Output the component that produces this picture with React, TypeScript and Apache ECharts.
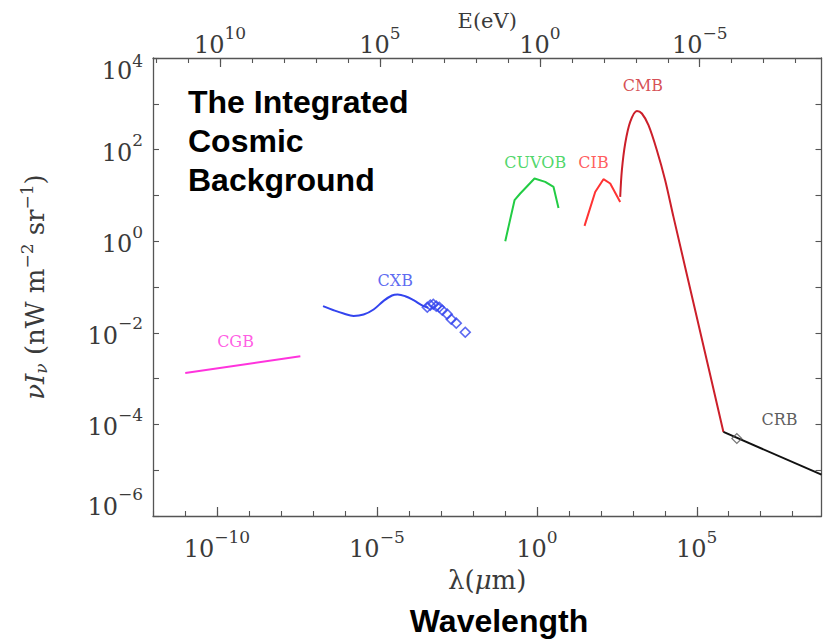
import React, { useEffect, useRef } from 'react';
import * as echarts from 'echarts';

// ---- data (λ in μm, νIν in nW m^-2 sr^-1) ----
const CGB_LAMBDA = [1.02e-11, 4.04e-8];
const CGB_FLUX = [1.33e-3, 3.08e-3];

const CXB_LAMBDA = [2.07e-7, 4.44e-7, 9.1e-7, 1.87e-6, 3.84e-6, 7.89e-6, 1.62e-5, 2.96e-5, 4.44e-5, 7.71e-5, 1.4e-4, 2.88e-4, 4.0e-4];
const CXB_FLUX = [0.0381, 0.0311, 0.0264, 0.0234, 0.0251, 0.0323, 0.0498, 0.0652, 0.0685, 0.063, 0.0515, 0.0381, 0.0353];

const CXB_PTS_LAMBDA = [3.76e-4, 4.67e-4, 5.79e-4, 7.18e-4, 8.91e-4, 1.11e-3, 1.58e-3, 2.11e-3, 3.03e-3, 5.79e-3];
const CXB_PTS_FLUX = [0.0362, 0.0401, 0.0421, 0.0381, 0.0362, 0.0311, 0.0255, 0.0198, 0.0162, 0.0103];

const CUVOB_LAMBDA = [0.103, 0.201, 0.303, 0.847, 1.83, 3.33, 4.76];
const CUVOB_FLUX = [1.0, 7.85, 11.0, 23.4, 19.7, 15.3, 5.33];

const CIB_LAMBDA = [31.0, 66.8, 121, 197, 404];
const CIB_FLUX = [2.16, 11.9, 22.6, 18.2, 7.21];

const CMB_LAMBDA = [404, 456, 579, 830, 1343, 1923, 3097, 5662, 10292, 18707, 1.0e5, 6.823e5];
const CMB_FLUX = [9.27, 35.5, 136, 403, 700, 614, 341, 97.0, 21.5, 3.4, 0.0222, 6.85e-5];

const CRB_LAMBDA = [6.823e5, 7.94e8];
const CRB_FLUX = [6.85e-5, 7.98e-6];
const CRB_PT_LAMBDA = [1.79e6];
const CRB_PT_FLUX = [4.92e-5];

const LABEL_NAMES = ['CGB', 'CXB', 'CUVOB', 'CIB', 'CMB', 'CRB'];
const LABEL_LAMBDA = [3.8e-10, 3.76e-5, 0.891, 59.2, 2070, 3.84e7];
const LABEL_FLUX = [6.56e-3, 0.136, 51.3, 51.3, 2547, 1.28e-4];
const LABEL_COLORS = ['#ff33dd', '#3344ee', '#22cc44', '#ff3333', '#cc1f2a', '#333333'];

// axis limits & ticks (exponents of 10)
const LAMBDA_MIN = 1e-12;
const LAMBDA_MAX = Math.pow(10, 8.9);
const HC_EV_UM = 1.24; // E(eV) = 1.24 / λ(μm)
const LAMBDA_LABEL_EXP = [-10, -5, 0, 5];
const LAMBDA_MINOR_EXP = [-12, -11, -10, -9, -8, -7, -6, -5, -4, -3, -2, -1, 0, 1, 2, 3, 4, 5, 6, 7, 8];
const E_LABEL_EXP = [10, 5, 0, -5];
const E_MINOR_EXP = [-8, -7, -6, -5, -4, -3, -2, -1, 0, 1, 2, 3, 4, 5, 6, 7, 8, 9, 10, 11, 12];
const Y_LABEL_EXP = [-6, -4, -2, 0, 2, 4];
const Y_MINOR_EXP = [-6, -5, -4, -3, -2, -1, 0, 1, 2, 3, 4];
const Y_MIN_EXP = -6;
const Y_MAX_EXP = 4;

const pairs = (lam: number[], flux: number[]) => lam.map((l, i) => [Math.log10(l), Math.log10(flux[i])]);

const SERIF = 'DejaVu Serif';
const TXT = '#3a3a3a';
const FRAME = '#555555';

const supText = (v: number) => (v < 0 ? '−' + Math.abs(v) : String(v));

const richTick: any = {
  mM: { fontFamily: SERIF, fontSize: 24, color: TXT, padding: [6, 0, 0, 0] },
  sM: { fontFamily: SERIF, fontSize: 17, color: TXT, padding: [0, 0, 19, 0] },
  mT: { fontFamily: SERIF, fontSize: 24, color: TXT, padding: [25, 0, 0, 0] },
  sT: { fontFamily: SERIF, fontSize: 17, color: TXT, padding: [5, 0, 0, 0] },
  mB: { fontFamily: SERIF, fontSize: 24, color: TXT, padding: [0, 0, 19, 0] },
  sB: { fontFamily: SERIF, fontSize: 17, color: TXT, padding: [0, 0, 44, 0] },
};

const fmtPlain = (v: number) => `{mM|10}{sM|${supText(Math.round(v))}}`;
const fmtY = (v: number) => {
  const r = Math.round(v);
  const k = r === Y_MAX_EXP ? 'T' : r === Y_MIN_EXP ? 'B' : 'M';
  return `{m${k}|10}{s${k}|${supText(r)}}`;
};

export default function App() {
  const ref = useRef<HTMLDivElement>(null);
  useEffect(() => {
    if (!ref.current) return;
    const chart = echarts.init(ref.current, undefined, { renderer: 'svg' });
    const logHc = Math.log10(HC_EV_UM);
    const xMin = Math.log10(LAMBDA_MIN);
    const xMax = Math.log10(LAMBDA_MAX);
    const lineSeries = (data: number[][], color: string, smooth: number | boolean = false) => ({
      type: 'line',
      data,
      symbol: 'none',
      smooth,
      xAxisIndex: 0,
      yAxisIndex: 0,
      lineStyle: { color, width: 2 },
      z: 3,
    });
    const option: any = {
      animation: false,
      backgroundColor: '#ffffff',
      grid: { left: 153, top: 58, width: 668.5, height: 458, containLabel: false, outerBoundsMode: 'none' },
      xAxis: [
        {
          type: 'value', position: 'bottom', min: xMin, max: xMax,
          axisLine: { show: true, onZero: false, lineStyle: { color: FRAME, width: 1.3 } },
          axisTick: { show: true, inside: true, length: 9, customValues: LAMBDA_LABEL_EXP, lineStyle: { color: FRAME, width: 1.2 } },
          axisLabel: { show: true, customValues: LAMBDA_LABEL_EXP, margin: 12, formatter: fmtPlain, rich: richTick },
          splitLine: { show: false },
          name: '{r|λ(}{it|μ}{r|m)}', nameLocation: 'middle', nameGap: 51, nameMoveOverlap: false,
          nameTextStyle: {
            color: TXT,
            rich: {
              r: { fontFamily: SERIF, fontSize: 26, color: TXT },
              it: { fontFamily: SERIF, fontSize: 26, fontStyle: 'italic', color: TXT },
            },
          },
        },
        {
          type: 'value', position: 'bottom', min: xMin, max: xMax,
          axisLine: { show: false, onZero: false },
          axisTick: { show: true, inside: true, length: 5, customValues: LAMBDA_MINOR_EXP, lineStyle: { color: FRAME, width: 1.1 } },
          axisLabel: { show: false },
          splitLine: { show: false },
        },
        {
          type: 'value', position: 'top', inverse: true,
          min: logHc - xMax, max: logHc - xMin,
          axisLine: { show: true, onZero: false, lineStyle: { color: FRAME, width: 1.3 } },
          axisTick: { show: true, inside: true, length: 9, customValues: E_LABEL_EXP, lineStyle: { color: FRAME, width: 1.2 } },
          axisLabel: { show: true, customValues: E_LABEL_EXP, margin: -2, formatter: fmtPlain, rich: richTick },
          splitLine: { show: false },
          name: 'E(eV)', nameLocation: 'middle', nameGap: 27, nameMoveOverlap: false,
          nameTextStyle: { fontFamily: SERIF, fontSize: 21, color: TXT },
        },
        {
          type: 'value', position: 'top', inverse: true,
          min: logHc - xMax, max: logHc - xMin,
          axisLine: { show: false, onZero: false },
          axisTick: { show: true, inside: true, length: 5, customValues: E_MINOR_EXP, lineStyle: { color: FRAME, width: 1.1 } },
          axisLabel: { show: false },
          splitLine: { show: false },
        },
      ],
      yAxis: [
        {
          type: 'value', position: 'left', min: Y_MIN_EXP, max: Y_MAX_EXP,
          axisLine: { show: true, onZero: false, lineStyle: { color: FRAME, width: 1.3 } },
          axisTick: { show: true, inside: true, length: 6, customValues: Y_MINOR_EXP, lineStyle: { color: FRAME, width: 1.1 } },
          axisLabel: { show: true, customValues: Y_LABEL_EXP, margin: 10, formatter: fmtY, rich: richTick },
          splitLine: { show: false },
          name: '{it|νI}{sub|ν}{r| (nW m}{sup|−2}{r| sr}{sup|−1}{r|)}',
          nameLocation: 'middle', nameGap: 102, nameMoveOverlap: false,
          nameTextStyle: {
            color: TXT,
            rich: {
              it: { fontFamily: SERIF, fontSize: 26, fontStyle: 'italic', color: TXT },
              sub: { fontFamily: SERIF, fontSize: 17, fontStyle: 'italic', color: TXT, padding: [12, 0, 0, 0] },
              r: { fontFamily: SERIF, fontSize: 26, color: TXT },
              sup: { fontFamily: SERIF, fontSize: 17, color: TXT, padding: [0, 0, 16, 0] },
            },
          },
        },
        {
          type: 'value', position: 'right', min: Y_MIN_EXP, max: Y_MAX_EXP,
          axisLine: { show: true, onZero: false, lineStyle: { color: FRAME, width: 1.3 } },
          axisTick: { show: true, inside: true, length: 6, customValues: Y_MINOR_EXP, lineStyle: { color: FRAME, width: 1.1 } },
          axisLabel: { show: false },
          splitLine: { show: false },
        },
      ],
      series: [
        lineSeries(pairs(CGB_LAMBDA, CGB_FLUX), '#ff33dd'),
        lineSeries(pairs(CXB_LAMBDA, CXB_FLUX), '#3344ee', 0.4),
        {
          type: 'scatter', data: pairs(CXB_PTS_LAMBDA, CXB_PTS_FLUX), xAxisIndex: 0, yAxisIndex: 0,
          symbol: 'rect', symbolRotate: 45, symbolSize: 7,
          itemStyle: { color: 'rgba(0,0,0,0)', borderColor: '#3344ee', borderWidth: 1.6 }, z: 4,
        },
        lineSeries(pairs(CUVOB_LAMBDA, CUVOB_FLUX), '#22cc44'),
        lineSeries(pairs(CIB_LAMBDA, CIB_FLUX), '#ff3333'),
        lineSeries(pairs(CMB_LAMBDA, CMB_FLUX), '#cc1f2a', 0.3),
        lineSeries(pairs(CRB_LAMBDA, CRB_FLUX), '#111111'),
        {
          type: 'scatter', data: pairs(CRB_PT_LAMBDA, CRB_PT_FLUX), xAxisIndex: 0, yAxisIndex: 0,
          symbol: 'rect', symbolRotate: 45, symbolSize: 7,
          itemStyle: { color: 'rgba(0,0,0,0)', borderColor: '#555555', borderWidth: 1.2 }, z: 4,
        },
        {
          type: 'scatter', xAxisIndex: 0, yAxisIndex: 0, symbolSize: 0, z: 5,
          data: LABEL_NAMES.map((n, i) => ({
            name: n,
            value: [Math.log10(LABEL_LAMBDA[i]), Math.log10(LABEL_FLUX[i])],
            label: { color: LABEL_COLORS[i] },
          })),
          label: {
            show: true, position: 'inside', formatter: (p: any) => p.name,
            fontFamily: SERIF, fontSize: 16,
          },
        },
      ],
      graphic: [
        {
          type: 'text', left: 188, top: 82, z: 10,
          style: {
            text: 'The Integrated\nCosmic\nBackground',
            fontFamily: 'Liberation Sans', fontWeight: 'bold', fontSize: 32, lineHeight: 39.3,
            fill: '#000000',
          },
        },
        {
          type: 'text', x: 499, y: 621, z: 10,
          style: {
            text: 'Wavelength', align: 'center', verticalAlign: 'middle',
            fontFamily: 'Liberation Sans', fontWeight: 'bold', fontSize: 32, fill: '#000000',
          },
        },
      ],
    };
    chart.setOption(option);
    return () => chart.dispose();
  }, []);
  return (
    <div
      ref={ref}
      style={{ position: 'absolute', left: 0, top: 0, width: 827, height: 641, background: '#fff' }}
    />
  );
}
